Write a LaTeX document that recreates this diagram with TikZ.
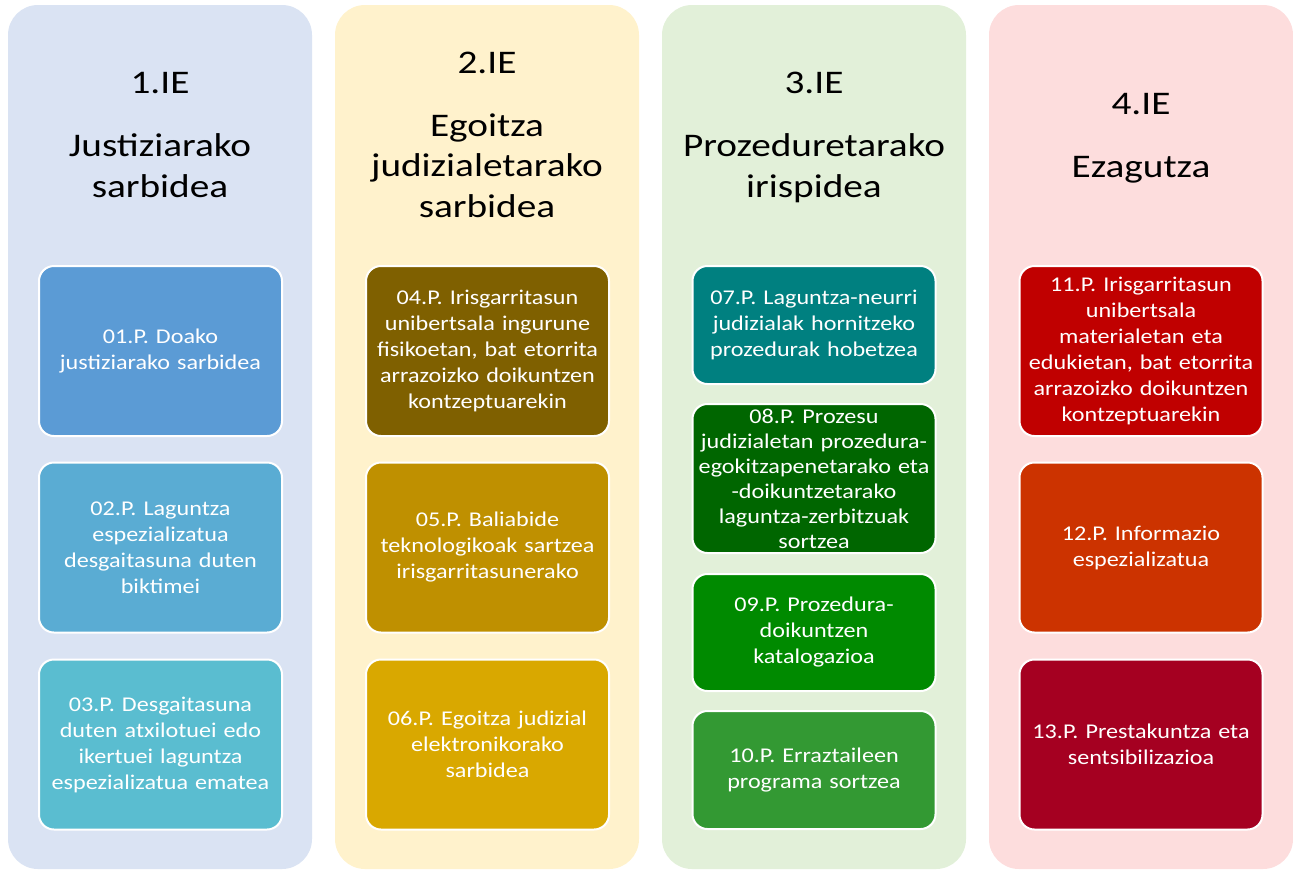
\documentclass[tikz,border=0pt]{standalone}
\usepackage{fontspec}
\setmainfont{Carlito}
\newfontfamily\titlefont[FakeStretch=1.19]{Carlito}
\newfontfamily\boxfont[FakeStretch=1.15]{Carlito}
\definecolor{bgA}{HTML}{DAE3F3}
\definecolor{bgB}{HTML}{FFF2CC}
\definecolor{bgC}{HTML}{E2F0D9}
\definecolor{bgD}{HTML}{FDDDDD}
\definecolor{c01}{HTML}{5B9BD5}
\definecolor{c02}{HTML}{5AACD3}
\definecolor{c03}{HTML}{5ABDD0}
\definecolor{c04}{HTML}{7F6000}
\definecolor{c05}{HTML}{BF9000}
\definecolor{c06}{HTML}{D9A800}
\definecolor{c07}{HTML}{008080}
\definecolor{c08}{HTML}{006600}
\definecolor{c09}{HTML}{008A00}
\definecolor{c10}{HTML}{339933}
\definecolor{c11}{HTML}{C00000}
\definecolor{c12}{HTML}{CC3300}
\definecolor{c13}{HTML}{A50021}
\tikzset{
  colbox/.style={rectangle, rounded corners=30pt, minimum width=304pt, minimum height=864pt, inner sep=0pt},
  ptitle/.style={anchor=base, align=center, font=\titlefont\fontsize{33}{40.6}\selectfont, text=black},
  pbox/.style={rectangle, rounded corners=15pt, draw=white, line width=2pt, minimum width=243pt, inner sep=0pt, text width=240pt, align=center, text=white, font=\boxfont\fontsize{21}{26}\selectfont},
  tall/.style={pbox, minimum height=170pt},
}
\begin{document}
\begin{tikzpicture}[x=1pt,y=-1pt]
\useasboundingbox (0,0) rectangle (1293,871);
% columns
\node[colbox, fill=bgA] (colA) at (160,437) {};
\node[colbox, fill=bgB] (colB) at (487,437) {};
\node[colbox, fill=bgC] (colC) at (814,437) {};
\node[colbox, fill=bgD] (colD) at (1141,437) {};
% titles (anchor base = last line)
\node[ptitle] (tA) at (160,197) {1.IE\\[22pt]Justiziarako\\sarbidea};
\node[ptitle] (tB) at (487,217.5) {2.IE\\[22pt]Egoitza\\judizialetarako\\sarbidea};
\node[ptitle] (tC) at (814,197) {3.IE\\[22pt]Prozeduretarako\\irispidea};
\node[ptitle] (tD) at (1141,177) {4.IE\\[22pt]Ezagutza};
% column 1
\node[tall, fill=c01] (p01) at (160.5,351) {01.P. Doako\\justiziarako sarbidea};
\node[tall, fill=c02] (p02) at (160.5,547.5) {02.P. Laguntza\\espezializatua\\desgaitasuna duten\\biktimei};
\node[tall, fill=c03] (p03) at (160.5,744.5) {03.P. Desgaitasuna\\duten atxilotuei edo\\ikertuei laguntza\\espezializatua ematea};
% column 2
\node[tall, fill=c04] (p04) at (487.5,351) {04.P. Irisgarritasun\\unibertsala ingurune\\fisikoetan, bat etorrita\\arrazoizko doikuntzen\\kontzeptuarekin};
\node[tall, fill=c05] (p05) at (487.5,547.5) {05.P. Baliabide\\teknologikoak sartzea\\irisgarritasunerako};
\node[tall, fill=c06] (p06) at (487.5,744.5) {06.P. Egoitza judizial\\elektronikorako\\sarbidea};
% column 3
\node[pbox, fill=c07, minimum height=118pt] (p07) at (814,325) {07.P. Laguntza-neurri\\judizialak hornitzeko\\prozedurak hobetzea};
\node[pbox, fill=c08, minimum height=149pt, font=\boxfont\fontsize{21}{25}\selectfont] (p08) at (814,478.5) {08.P. Prozesu\\judizialetan prozedura-\\egokitzapenetarako eta\\-doikuntzetarako\\laguntza-zerbitzuak\\sortzea};
\node[pbox, fill=c09, minimum height=117pt] (p09) at (814,632.5) {09.P. Prozedura-\\doikuntzen\\katalogazioa};
\node[pbox, fill=c10, minimum height=118pt] (p10) at (814,770) {10.P. Erraztaileen\\programa sortzea};
% column 4
\node[tall, fill=c11] (p11) at (1141,351) {11.P. Irisgarritasun\\unibertsala\\materialetan eta\\edukietan, bat etorrita\\arrazoizko doikuntzen\\kontzeptuarekin};
\node[tall, fill=c12] (p12) at (1141,547.5) {12.P. Informazio\\espezializatua};
\node[tall, fill=c13] (p13) at (1141,744.5) {13.P. Prestakuntza eta\\sentsibilizazioa};
\end{tikzpicture}
\end{document}
